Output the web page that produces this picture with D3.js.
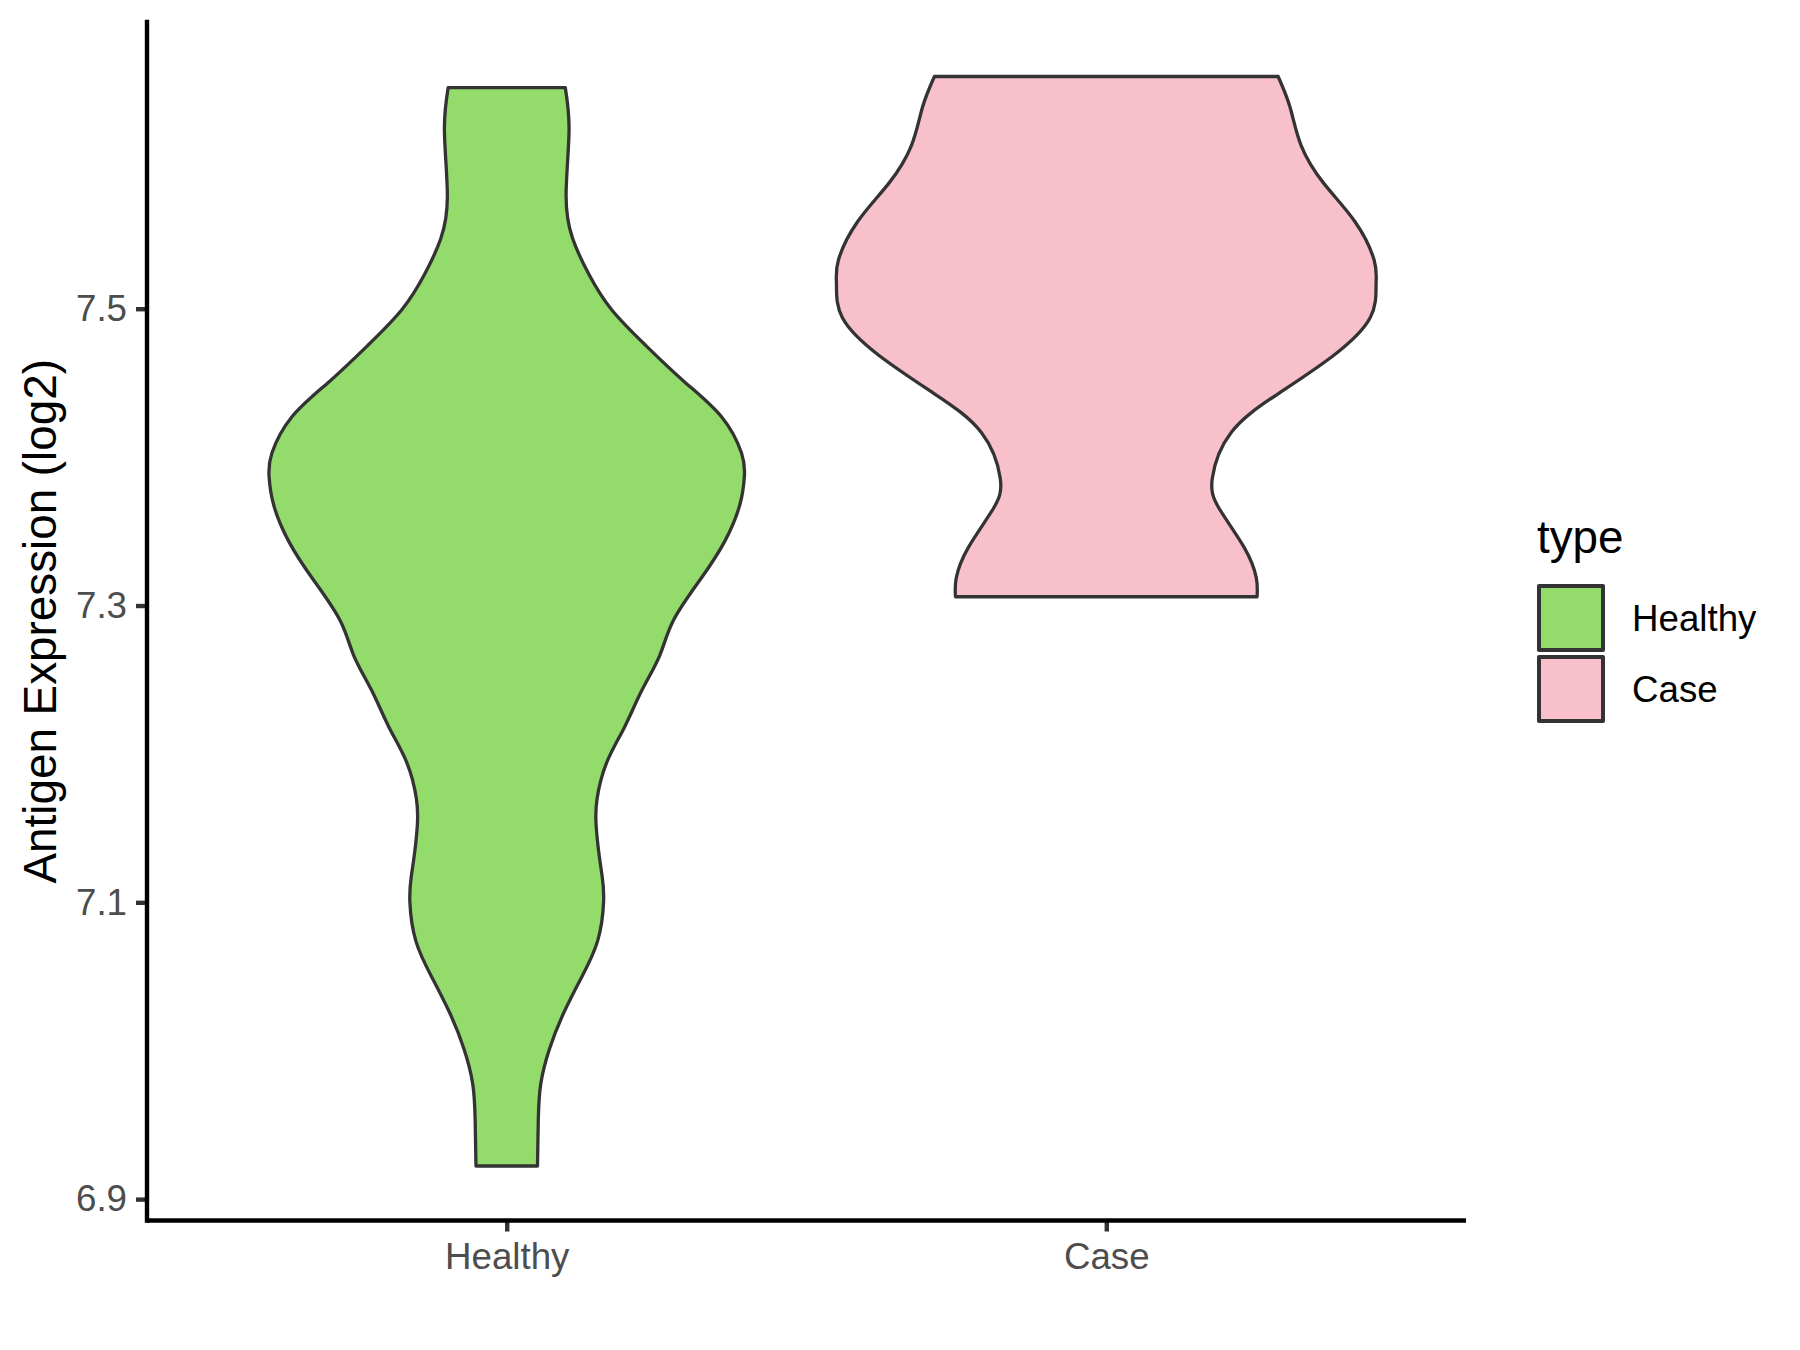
<!DOCTYPE html>
<html>
<head>
<meta charset="utf-8">
<script src="https://cdn.jsdelivr.net/npm/d3@7"></script>
<style>
  html, body { margin: 0; padding: 0; background: #ffffff; }
  svg { display: block; }
  text { font-family: "Liberation Sans", Arial, sans-serif; }
</style>
</head>
<body>
<svg id="chart" width="1800" height="1350"></svg>
<script>
// ---------------- data ----------------
const categories = ["Healthy", "Case"];
const fillColors = ["#93DB6B", "#F7C0CA"];

// Healthy violin outline: expression values (log2) and relative density (half-width)
const healthyValues = [7.649, 7.6197, 7.5764, 7.5475, 7.5234, 7.4993, 7.4753, 7.4512, 7.4272, 7.4029, 7.3874, 7.3672, 7.3429, 7.3187, 7.2904, 7.2663, 7.2425, 7.2182, 7.1940, 7.1700, 7.1531, 7.1340, 7.1171, 7.1003, 7.0740, 7.0497, 7.0254, 7.0015, 6.9776, 6.9533, 6.9223];
const healthyDensity = [0.217, 0.231, 0.220, 0.244, 0.304, 0.389, 0.515, 0.656, 0.796, 0.870, 0.881, 0.863, 0.807, 0.722, 0.619, 0.567, 0.500, 0.437, 0.370, 0.335, 0.331, 0.341, 0.354, 0.359, 0.337, 0.278, 0.211, 0.159, 0.126, 0.117, 0.114];

// Case violin outline
const caseValues = [7.6565, 7.6359, 7.6101, 7.5843, 7.5586, 7.5327, 7.5162, 7.4939, 7.4683, 7.4427, 7.4166, 7.3857, 7.3652, 7.3392, 7.3187, 7.3059];
const caseDensity = [0.637, 0.681, 0.722, 0.807, 0.922, 0.993, 1.000, 0.978, 0.841, 0.637, 0.463, 0.393, 0.419, 0.511, 0.556, 0.559];

const yTicks = [6.9, 7.1, 7.3, 7.5];
const yTitle = "Antigen Expression (log2)";
const legendTitle = "type";

// ---------------- layout ----------------
const svg = d3.select("#chart");
const panel = { left: 147, right: 1466, top: 22, bottom: 1220.5 };

const allVals = healthyValues.concat(caseValues);
const [vmin, vmax] = d3.extent(allVals);
const pad = (vmax - vmin) * 0.05;

const y = d3.scaleLinear()
  .domain([vmin - pad, vmax + pad])
  .range([panel.bottom, panel.top]);

const x = d3.scalePoint()
  .domain(categories)
  .range([panel.left, panel.right])
  .padding(0.6);

const halfWidth = d3.scaleLinear().domain([0, 1]).range([0, 0.45 * x.step()]);

const series = [
  { cat: "Healthy", vals: healthyValues, dens: healthyDensity, fill: fillColors[0] },
  { cat: "Case", vals: caseValues, dens: caseDensity, fill: fillColors[1] }
];

// ---------------- violins ----------------
series.forEach(s => {
  const cx = x(s.cat);
  const pts = s.vals.map((v, i) => ({ v: v, d: s.dens[i] }));
  const area = d3.area()
    .y(d => y(d.v))
    .x0(d => cx - halfWidth(d.d))
    .x1(d => cx + halfWidth(d.d))
    .curve(d3.curveNatural);
  svg.append("path")
    .attr("d", area(pts))
    .attr("fill", s.fill)
    .attr("stroke", "#333333")
    .attr("stroke-width", 3.3)
    .attr("stroke-linejoin", "round");
});

// ---------------- axes ----------------
const yAxis = d3.axisLeft(y)
  .tickValues(yTicks)
  .tickFormat(d3.format(".1f"))
  .tickSize(11)
  .tickSizeOuter(0)
  .tickPadding(9);

const gy = svg.append("g")
  .attr("transform", `translate(${panel.left},0)`)
  .call(yAxis);
gy.select(".domain").remove();
gy.selectAll(".tick line").attr("stroke", "#333333").attr("stroke-width", 4.4);
gy.selectAll(".tick text")
  .attr("fill", "#4D4D4D")
  .style("font-size", "36.7px")
  .style("font-family", "'Liberation Sans', Arial, sans-serif");

const xAxis = d3.axisBottom(x)
  .tickSize(11)
  .tickSizeOuter(0)
  .tickPadding(11);

const gx = svg.append("g")
  .attr("transform", `translate(0,${panel.bottom})`)
  .call(xAxis);
gx.select(".domain").remove();
gx.selectAll(".tick line").attr("stroke", "#333333").attr("stroke-width", 4.4);
gx.selectAll(".tick text")
  .attr("fill", "#4D4D4D")
  .style("font-size", "36.7px")
  .style("font-family", "'Liberation Sans', Arial, sans-serif");

// axis lines
svg.append("line")
  .attr("x1", panel.left).attr("x2", panel.left)
  .attr("y1", panel.top).attr("y2", panel.bottom)
  .attr("stroke", "#000").attr("stroke-width", 4.4).attr("stroke-linecap", "square");
svg.append("line")
  .attr("x1", panel.left).attr("x2", panel.right)
  .attr("y1", panel.bottom).attr("y2", panel.bottom)
  .attr("stroke", "#000").attr("stroke-width", 4.4).attr("stroke-linecap", "butt");

// y title
svg.append("text")
  .attr("transform", `translate(56,${(panel.top + panel.bottom) / 2}) rotate(-90)`)
  .attr("text-anchor", "middle")
  .attr("fill", "#000")
  .style("font-size", "45.8px")
  .text(yTitle);

// ---------------- legend ----------------
const lg = svg.append("g").attr("transform", "translate(1537,0)");
lg.append("text")
  .attr("x", 0).attr("y", 553)
  .attr("fill", "#000")
  .style("font-size", "45.8px")
  .text(legendTitle);

categories.forEach((c, i) => {
  const top = 586 + i * 71;
  lg.append("rect")
    .attr("x", 2).attr("y", top)
    .attr("width", 64).attr("height", 64)
    .attr("fill", fillColors[i])
    .attr("stroke", "#333333")
    .attr("stroke-width", 4)
    .attr("stroke-linejoin", "round");
  lg.append("text")
    .attr("x", 95).attr("y", top + 32)
    .attr("dy", "0.36em")
    .attr("fill", "#000")
    .style("font-size", "36.7px")
    .text(c);
});
</script>
</body>
</html>
